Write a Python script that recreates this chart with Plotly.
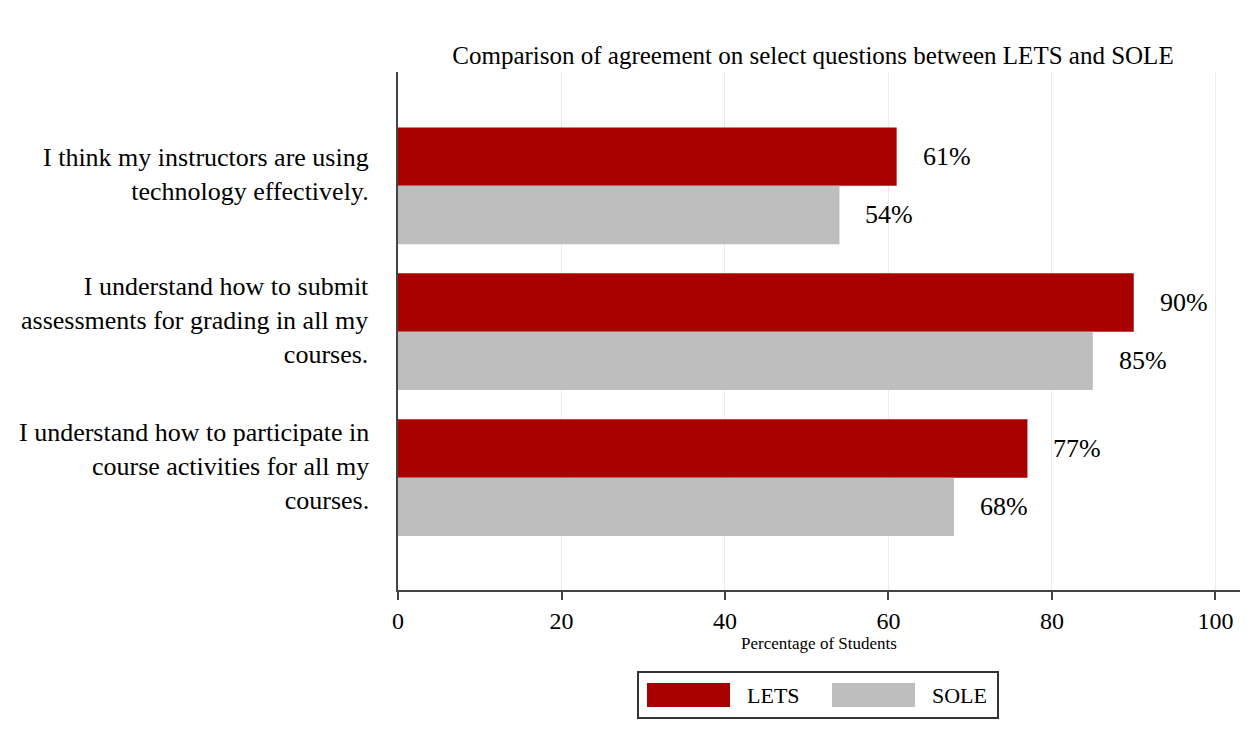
import plotly.graph_objects as go

# ---- data ----
categories = [
    "I think my instructors are using<br>technology effectively.",
    "I understand how to submit<br>assessments for grading in all my<br>courses.",
    "I understand how to participate in<br>course activities for all my<br>courses.",
]
series_names = ["LETS", "SOLE"]
lets_values = [61, 90, 77]
sole_values = [54, 85, 68]
x_ticks = [0, 20, 40, 60, 80, 100]
title_text = "Comparison of agreement on select questions between LETS and SOLE"
x_title = "Percentage of Students"

colors = ["#A80000", "#BEBEBE"]
FONT = "Liberation Serif, Times New Roman, serif"

# page body has an 8px margin; compensate so the figure lands where the original is
OFF = 8
W, H = 1252 - OFF, 749 - OFF
PLOT_L, PLOT_R, PLOT_T, PLOT_B = 398, 1240, 72, 590  # reference pixel frame
L, T = PLOT_L - OFF, PLOT_T - OFF
R = W - (PLOT_R - OFF)
B = H - (PLOT_B - OFF)
PW, PH = PLOT_R - PLOT_L, PLOT_B - PLOT_T

def px(x):
    return (x - PLOT_L) / PW

def py(y):
    return (PLOT_B - y) / PH

fig = go.Figure()
for name, vals, col in zip(series_names, [lets_values, sole_values], colors):
    fig.add_trace(go.Bar(
        y=categories, x=vals, name=name, orientation="h",
        marker=dict(color=col, line=dict(width=0)),
        showlegend=False,
    ))

# value labels
for vals, shift in [(lets_values, 29), (sole_values, -29)]:
    for c, v in zip(categories, vals):
        fig.add_annotation(
            x=v, y=c, text=f"{v}%", showarrow=False,
            xanchor="left", yanchor="middle", xshift=24, yshift=shift,
            font=dict(family=FONT, size=26, color="#000"),
        )

# category labels (right aligned, sitting slightly above the group centre)
for c in categories:
    fig.add_annotation(
        x=px(371), xref="paper", y=c, yref="y", text=c, showarrow=False,
        xanchor="right", yanchor="middle", align="right", yshift=11,
        font=dict(family=FONT, size=26, color="#000"),
    )

# manual legend (wide swatches like the original)
shapes = [dict(type="rect", xref="paper", yref="paper",
               x0=px(638), x1=px(998), y0=py(672), y1=py(718),
               line=dict(color="#333", width=2), fillcolor="white")]
sw_left = [647, 832]
txt_left = [745, 930]
for name, col, sl, tl in zip(series_names, colors, sw_left, txt_left):
    shapes.append(dict(type="rect", xref="paper", yref="paper",
                       x0=px(sl), x1=px(sl + 83), y0=py(683), y1=py(707),
                       line=dict(width=0), fillcolor=col))
    fig.add_annotation(x=px(tl), y=py(695), xref="paper", yref="paper",
                       text=name, showarrow=False, xanchor="left", yanchor="middle",
                       font=dict(family=FONT, size=22, color="#000"))

fig.update_layout(
    width=W, height=H,
    margin=dict(l=L, r=R, t=T, b=B, pad=0, autoexpand=False),
    paper_bgcolor="white", plot_bgcolor="white",
    barmode="group", bargap=0.2, bargroupgap=0,
    shapes=shapes,
    title=dict(text=title_text, x=(813 - OFF) / W, xanchor="center",
               y=1 - (55 - OFF) / H, yanchor="middle", yref="container",
               font=dict(family=FONT, size=25, color="#000")),
    font=dict(family=FONT, color="#000"),
)
fig.update_xaxes(
    range=[0, 103], tickvals=x_ticks, ticktext=[str(t) for t in x_ticks],
    showgrid=True, gridcolor="#E4EDF0", gridwidth=1, zeroline=False,
    showline=True, linecolor="#444", linewidth=2, automargin=False,
    ticks="outside", ticklen=8, tickwidth=1.5, tickcolor="#444",
    tickfont=dict(family=FONT, size=24, color="#000"),
    title=dict(text=x_title, standoff=4, font=dict(family=FONT, size=17, color="#000")),
)
fig.update_yaxes(
    type="category", range=[2.77, -0.78],
    showgrid=False, zeroline=False, automargin=False,
    showline=True, linecolor="#444", linewidth=2,
    ticks="", showticklabels=False,
)

fig.write_html("out.html")
